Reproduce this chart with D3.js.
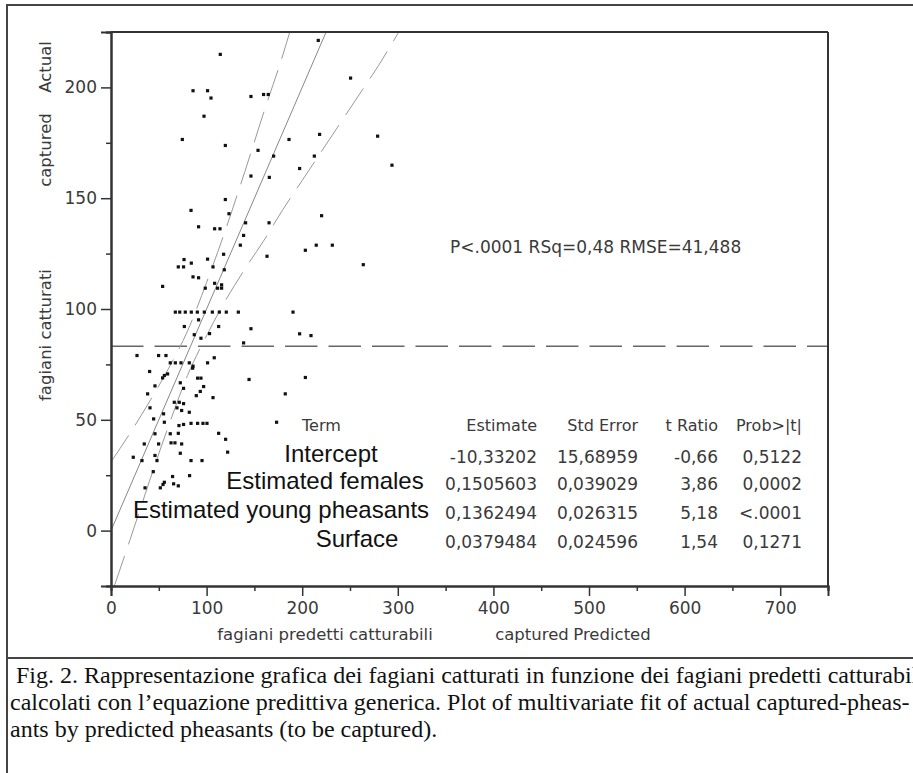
<!DOCTYPE html>
<html>
<head>
<meta charset="utf-8">
<script src="https://cdn.jsdelivr.net/npm/d3@7"></script>
<style>
  body { margin: 0; background: #fff; }
  svg text { font-family: "DejaVu Sans", sans-serif; }
</style>
</head>
<body>
<div id="chart"></div>
<script>
// predicted (x) vs actual (y) captured pheasants
const predicted = [114.3, 85.8, 101.0, 104.6, 146.4, 159.6, 164.5, 97.3, 74.6, 119.6, 153.8, 146.4, 119.6, 83.7, 123.4,
  216.8, 250.6, 186.2, 218.2, 278.9, 170.1, 212.7, 197.3, 165.6, 293.9, 220.3, 91.6, 108.4, 114.0, 140.8, 165.3, 138.7,
  135.3, 203.3, 214.7, 231.5, 163.2, 263.9, 76.4, 70.4, 75.9, 84.0, 101.0, 117.8, 106.7, 118.5, 85.8, 91.6, 54.0, 108.4,
  111.5, 115.7, 115.7, 98.6, 67.3, 71.9, 77.7, 84.0, 90.3, 97.6, 106.0, 113.3, 120.6, 133.2, 190.4, 91.6, 76.7, 112.6,
  146.4, 87.1, 94.1, 103.1, 138.7, 197.3, 209.2, 27.2, 49.8, 57.5, 62.0, 67.3, 73.2, 81.9, 85.8, 101.0, 108.0, 40.4,
  55.8, 59.2, 54.0, 85.4, 90.6, 94.1, 144.4, 46.0, 72.5, 75.9, 96.9, 93.4, 38.3, 89.2, 106.7, 203.3, 182.3, 66.2, 71.4,
  75.9, 40.8, 69.0, 73.9, 81.9, 44.6, 55.0, 55.8, 71.1, 75.9, 83.7, 90.6, 96.2, 100.4, 173.2, 46.0, 62.0, 70.4, 112.6,
  119.9, 122.0, 34.8, 49.8, 62.8, 66.9, 73.9, 23.3, 32.4, 46.0, 48.1, 72.5, 83.7, 95.2, 44.2, 82.2, 64.4, 55.8, 54.4,
  51.6, 65.5, 70.4, 35.6];
const actual = [214.9, 198.5, 198.5, 195.2, 195.9, 196.8, 196.8, 187.0, 176.5, 173.8, 171.6, 160.0, 149.4, 144.5, 143.0,
  221.2, 204.2, 176.5, 178.8, 178.0, 169.0, 169.0, 163.4, 159.4, 164.9, 142.1, 137.1, 136.2, 136.2, 138.9, 138.9, 133.2,
  128.8, 126.5, 128.8, 128.8, 123.8, 120.0, 122.3, 119.0, 119.0, 120.7, 122.5, 124.7, 119.0, 117.7, 114.5, 114.1, 110.2, 111.6,
  109.4, 109.4, 110.9, 109.4, 98.6, 98.6, 98.6, 98.6, 98.6, 98.6, 98.6, 98.6, 98.6, 98.6, 98.6, 95.1, 92.1, 92.1,
  91.1, 88.4, 86.8, 88.9, 84.7, 88.8, 88.0, 79.0, 79.0, 79.0, 75.7, 75.7, 75.7, 75.7, 74.2, 75.7, 78.0, 71.8,
  70.0, 70.7, 68.9, 73.3, 68.8, 68.8, 68.2, 65.3, 66.7, 64.2, 65.0, 62.8, 61.7, 60.9, 60.0, 69.1, 61.7, 57.9, 57.9,
  57.3, 55.4, 55.4, 54.2, 53.4, 50.4, 52.7, 48.9, 47.4, 47.9, 48.4, 48.4, 48.4, 48.4, 48.9, 43.7, 43.7, 43.9, 43.9,
  41.2, 35.4, 39.1, 39.1, 39.6, 39.6, 39.1, 33.1, 31.6, 33.9, 31.6, 34.9, 31.6, 31.6, 26.6, 24.8, 24.4, 21.8, 20.8,
  19.3, 21.1, 20.2, 19.3];

// fit line and its confidence curves
const fitLine = [[0, 0], [225, 225]];
const upperCurve = [[0, 31], [20, 44], [40, 58], [60, 73], [80, 90], [100, 112], [120, 136], [140, 162], [160, 189], [180, 215], [187, 225]];
const lowerCurve = [[3.5, -25], [20, -4], [40, 22], [60, 47], [80, 70], [100, 88], [120, 104], [140, 118], [160, 131],
  [180, 145], [200, 158], [220, 171], [240, 184], [260, 197], [280, 210], [301, 225]];
const meanActual = 83.2;

const xMajor = [0, 100, 200, 300, 400, 500, 600, 700];
const xMinor = [50, 150, 250, 350, 450, 550, 650, 750];
const yMajor = [0, 50, 100, 150, 200];
const yMinor = [-25, 25, 75, 125, 175, 225];

const statLine = "P<.0001 RSq=0,48 RMSE=41,488";
const tableHeader = ["Term", "Estimate", "Std Error", "t Ratio", "Prob>|t|"];
const terms = ["Intercept", "Estimated females", "Estimated young pheasants", "Surface"];
const estimates = ["-10,33202", "0,1505603", "0,1362494", "0,0379484"];
const stdErrors = ["15,68959", "0,039029", "0,026315", "0,024596"];
const tRatios = ["-0,66", "3,86", "5,18", "1,54"];
const probs = ["0,5122", "0,0002", "<.0001", "0,1271"];

const captionLines = [
  " Fig. 2. Rappresentazione grafica dei fagiani catturati in funzione dei fagiani predetti catturabili",
  "calcolati con l\u2019equazione predittiva generica. Plot of multivariate fit of actual captured-pheas-",
  "ants by predicted pheasants (to be captured)."
];

const W = 913, H = 773;
const pLeft = 111, pRight = 828, pTop = 32, pBottom = 586;

const svg = d3.select("#chart").append("svg")
  .attr("width", W)
  .attr("height", H);

const x = d3.scaleLinear().domain([0, 750]).range([pLeft, pRight]);
const y = d3.scaleLinear().domain([-25, 225]).range([pBottom, pTop]);

// outer frame pieces
svg.append("line").attr("x1", 6).attr("x2", W).attr("y1", 5).attr("y2", 5)
  .attr("stroke", "#444").attr("stroke-width", 2);
svg.append("line").attr("x1", 7).attr("x2", 7).attr("y1", 5).attr("y2", H)
  .attr("stroke", "#444").attr("stroke-width", 2);
svg.append("line").attr("x1", 7).attr("x2", W).attr("y1", 658).attr("y2", 658)
  .attr("stroke", "#444").attr("stroke-width", 2);

svg.append("clipPath").attr("id", "plotclip")
  .append("rect").attr("x", pLeft).attr("y", pTop).attr("width", pRight - pLeft).attr("height", pBottom - pTop);

const plot = svg.append("g").attr("clip-path", "url(#plotclip)");

// mean line
plot.append("line")
  .attr("x1", x(0)).attr("x2", x(750))
  .attr("y1", y(meanActual)).attr("y2", y(meanActual))
  .attr("stroke", "#666").attr("stroke-width", 1.6)
  .attr("stroke-dasharray", "32.5,11");

const line = d3.line().x(d => x(d[0])).y(d => y(d[1]));
const curve = d3.line().x(d => x(d[0])).y(d => y(d[1])).curve(d3.curveMonotoneX);

plot.append("path").attr("d", line(fitLine))
  .attr("fill", "none").attr("stroke", "#888").attr("stroke-width", 1);
[upperCurve, lowerCurve].forEach(c => {
  plot.append("path").attr("d", curve(c))
    .attr("fill", "none").attr("stroke", "#999").attr("stroke-width", 1)
    .attr("stroke-dasharray", "32,12");
});

// points
plot.selectAll("rect.pt")
  .data(predicted.map((p, i) => [p, actual[i]]))
  .enter()
  .append("rect")
  .attr("class", "pt")
  .attr("x", d => x(d[0]) - 1.6)
  .attr("y", d => y(d[1]) - 1.6)
  .attr("width", 3.2)
  .attr("height", 3.2)
  .attr("fill", "#111");

// axes
const xAxis = d3.axisBottom(x).tickValues(xMajor).tickSize(10).tickPadding(6).tickFormat(d3.format("d"));
const xAxisMinor = d3.axisBottom(x).tickValues(xMinor).tickSize(5).tickFormat("");
const yAxis = d3.axisLeft(y).tickValues(yMajor).tickSize(10).tickPadding(4).tickFormat(d3.format("d"));
const yAxisMinor = d3.axisLeft(y).tickValues(yMinor).tickSize(5).tickFormat("");

function styleAxis(g) {
  g.select(".domain").attr("stroke", "#333").attr("stroke-width", 2);
  g.selectAll(".tick line").attr("stroke", "#333").attr("stroke-width", 1.5);
  g.selectAll(".tick text").attr("fill", "#3a3a3a").style("font-size", "17px")
    .style("font-family", "'DejaVu Sans', sans-serif");
}

svg.append("g").attr("transform", "translate(0," + pBottom + ")").call(xAxis).call(styleAxis);
svg.append("g").attr("transform", "translate(0," + pBottom + ")").call(xAxisMinor).call(styleAxis);
svg.append("g").attr("transform", "translate(" + pLeft + ",0)").call(yAxis).call(styleAxis);
svg.append("g").attr("transform", "translate(" + pLeft + ",0)").call(yAxisMinor).call(styleAxis);

// top and right border of the plot box
svg.append("line").attr("x1", pLeft).attr("x2", pRight).attr("y1", pTop).attr("y2", pTop)
  .attr("stroke", "#333").attr("stroke-width", 2);
svg.append("line").attr("x1", pRight).attr("x2", pRight).attr("y1", pTop).attr("y2", pBottom)
  .attr("stroke", "#333").attr("stroke-width", 2);

// axis titles
svg.append("text").attr("x", 325).attr("y", 640).attr("text-anchor", "middle")
  .style("font-size", "16.5px").attr("fill", "#3a3a3a").text("fagiani predetti catturabili");
svg.append("text").attr("x", 532).attr("y", 640).attr("text-anchor", "middle")
  .style("font-size", "16.5px").attr("fill", "#3a3a3a").text("captured");
svg.append("text").attr("x", 612).attr("y", 640).attr("text-anchor", "middle")
  .style("font-size", "16.5px").attr("fill", "#3a3a3a").text("Predicted");

[["Actual", 67], ["captured", 150], ["fagiani catturati", 335]].forEach(t => {
  svg.append("text")
    .attr("transform", "translate(51," + t[1] + ") rotate(-90)")
    .attr("text-anchor", "middle")
    .style("font-size", "16.5px").attr("fill", "#3a3a3a")
    .text(t[0]);
});

// fit statistics
svg.append("text").attr("x", 450).attr("y", 253)
  .style("font-size", "17px").attr("fill", "#3a3a3a").text(statLine);

// parameter table
const colRight = [537, 638, 718, 802];
svg.append("text").attr("x", 302).attr("y", 431)
  .style("font-size", "16px").attr("fill", "#3a3a3a").text(tableHeader[0]);
tableHeader.slice(1).forEach((h, i) => {
  svg.append("text").attr("x", colRight[i]).attr("y", 431).attr("text-anchor", "end")
    .style("font-size", "16px").attr("fill", "#3a3a3a").text(h);
});

const rowY = [463, 490, 519, 548];
const termX = [331, 325, 281, 357];
terms.forEach((t, i) => {
  svg.append("text").attr("x", termX[i]).attr("y", rowY[i] - 1).attr("text-anchor", "middle")
    .style("font-family", "'Liberation Sans', Arial, sans-serif")
    .style("font-size", "24px").attr("fill", "#111").text(t);
});
[estimates, stdErrors, tRatios, probs].forEach((col, c) => {
  col.forEach((v, i) => {
    svg.append("text").attr("x", colRight[c]).attr("y", rowY[i]).attr("text-anchor", "end")
      .style("font-size", "17px").attr("fill", "#3a3a3a").text(v);
  });
});

// caption
captionLines.forEach((t, i) => {
  svg.append("text").attr("x", 10).attr("y", 683 + i * 27)
    .style("font-family", "'Liberation Serif', 'Times New Roman', serif")
    .style("font-size", "24px").attr("fill", "#111")
    .attr("xml:space", "preserve")
    .text(t);
});
</script>
</body>
</html>
